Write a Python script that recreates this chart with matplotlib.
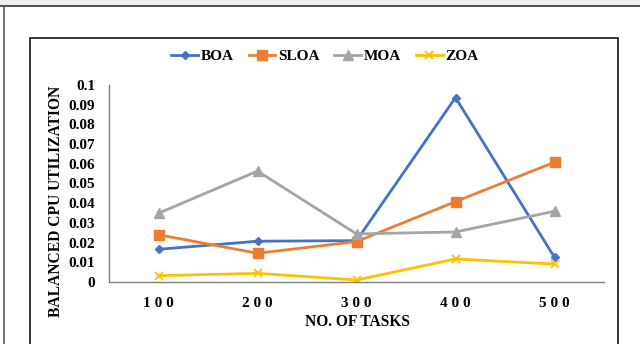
import matplotlib
matplotlib.use("Agg")
import matplotlib.pyplot as plt
from matplotlib.patches import Rectangle
from matplotlib.lines import Line2D

tasks = [100, 200, 300, 400, 500]
boa = [0.0166, 0.0207, 0.021, 0.0936, 0.0125]
sloa = [0.024, 0.0146, 0.0205, 0.0408, 0.0608]
moa = [0.0349, 0.0563, 0.0244, 0.0254, 0.0359]
zoa = [0.0032, 0.0044, 0.001, 0.0117, 0.0091]
y_ticks = [0, 0.01, 0.02, 0.03, 0.04, 0.05, 0.06, 0.07, 0.08, 0.09, 0.1]

plt.rcParams['font.family'] = 'Liberation Serif'
plt.rcParams['font.weight'] = 'bold'

W, H = 640, 344
fig = plt.figure(figsize=(W / 100, H / 100), dpi=100)

def fx(px):
    return px / W

def fy(py):
    return 1 - py / H

# window frame around the chart
fig.patches.append(Rectangle((0, fy(5.5)), 1, 5.5 / H, transform=fig.transFigure,
                             facecolor='#efefef', edgecolor='none'))
fig.lines.append(Line2D([0, 1], [fy(5.8), fy(5.8)], transform=fig.transFigure,
                        color='#222222', lw=1.1))
fig.lines.append(Line2D([fx(3.8), fx(3.8)], [0, fy(5.8)], transform=fig.transFigure,
                        color='#555555', lw=1.2))
fig.patches.append(Rectangle((fx(30.3), fy(360)), fx(618.3 - 30.3), (360 - 37.7) / H,
                             transform=fig.transFigure, facecolor='none',
                             edgecolor='black', lw=1.1))

ax = fig.add_axes([fx(109), fy(282), fx(604 - 109), (282 - 85) / H])
x = list(range(len(tasks)))
ax.plot(x, boa, color='#4472C4', lw=2, marker='D', ms=4.5, label='BOA')
ax.plot(x, sloa, color='#ED7D31', lw=2, marker='s', ms=6.5, label='SLOA')
ax.plot(x, moa, color='#A5A5A5', lw=2, marker='^', ms=6.5, label='MOA')
ax.plot(x, zoa, color='#FFC000', lw=2, marker='x', ms=6, mew=1.3, label='ZOA')

ax.set_xlim(-0.5, len(tasks) - 0.5)
ax.set_ylim(0, 0.1)
ax.set_xticks(x)
ax.set_xticklabels([' '.join(str(t)) for t in tasks], fontsize=11, fontweight='bold')
ax.set_yticks(y_ticks)
ax.set_yticklabels([('%g' % v) for v in y_ticks], fontsize=11, fontweight='bold')
ax.tick_params(axis='both', length=0)
ax.tick_params(axis='x', pad=11)
ax.tick_params(axis='y', pad=10)
for s in ['top', 'right']:
    ax.spines[s].set_visible(False)
for s in ['left', 'bottom']:
    ax.spines[s].set_color('#7f7f7f')
    ax.spines[s].set_linewidth(1)

fig.text(fx(357), fy(322), 'NO. OF TASKS', ha='center', va='center',
         fontsize=11.2, fontweight='bold')
fig.text(fx(56), fy(201), 'BALANCED CPU UTILIZATION', ha='center', va='center',
         rotation=90, fontsize=11.2, fontweight='bold')

fig.legend(loc='center', bbox_to_anchor=(fx(325), fy(56)), ncol=4, frameon=False,
           prop={'size': 11, 'weight': 'bold'}, handlelength=1.75,
           handletextpad=0.2, columnspacing=0.95)

fig.savefig('out.png', dpi=100)
